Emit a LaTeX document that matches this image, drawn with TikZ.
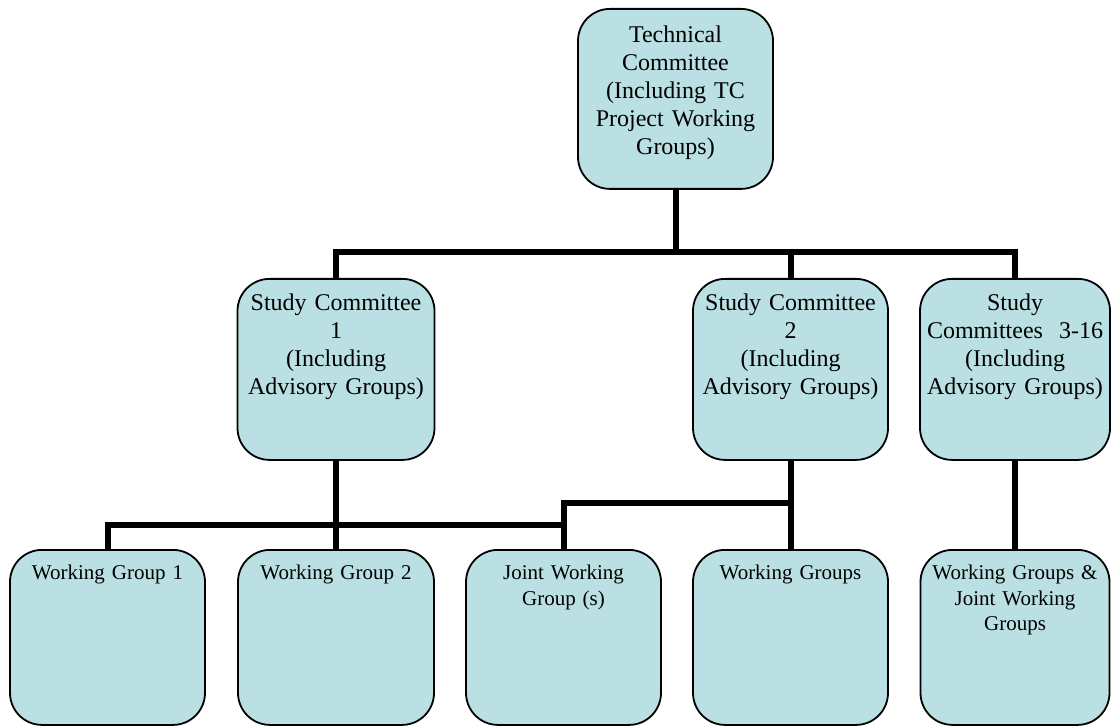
\documentclass[tikz,border=0pt]{standalone}
\usepackage{fontspec}
\setmainfont{Liberation Serif}
\definecolor{boxfill}{RGB}{186,224,227}
\tikzset{
	unit/.style = {draw, line width = 1.8pt, fill = boxfill, rounded corners = 32pt,
		inner sep = 0pt, align = center},
	upper/.style = {unit, anchor = north, font = \fontsize{24}{28}\selectfont},
	lower/.style = {unit, anchor = north, font = \fontsize{21}{25.5}\selectfont,
		text height = 30pt, text depth = 145pt},
	link/.style = {line width = 6pt}
}
\begin{document}
\begin{tikzpicture} [x = 1pt, y = -1pt]
	\useasboundingbox (0,0) rectangle (1111,727);
	% top
	\node [upper, text width = 195pt, text height = 34pt, text depth = 146pt] (tc) at (675.5,8)
		{Technical\\Committee\\(Including TC\\Project Working\\Groups)};
	% study committees
	\node [upper, text width = 197pt, text height = 32pt, text depth = 149pt] (sc1) at (336,278)
		{Study Committee\\1\\(Including\\Advisory Groups)};
	\node [upper, text width = 195pt, text height = 32pt, text depth = 149pt] (sc2) at (790.5,278)
		{Study Committee\\2\\(Including\\Advisory Groups)};
	\node [upper, text width = 190pt, text height = 32pt, text depth = 149pt] (sc3) at (1015,278)
		{Study\\Committees~~3-16\\(Including\\Advisory Groups)};
	% working groups
	\node [lower, text width = 195pt] (wg1) at (107.5,549) {Working Group 1};
	\node [lower, text width = 196pt] (wg2) at (336,549) {Working Group 2};
	\node [lower, text width = 195pt] (jwg) at (563.5,549) {Joint Working\\Group (s)};
	\node [lower, text width = 195pt] (wgs) at (790.5,549) {Working Groups};
	\node [lower, text width = 189pt] (wgj) at (1015,549) {Working Groups \&\\Joint Working\\Groups};
	% connectors
	\coordinate (bus1) at (675.5,252);
	\coordinate (bus2) at (0,525);
	\coordinate (bus3) at (0,503);
	\draw [link] (tc.south) -- (tc.south |- bus1);
	\draw [link] (sc1.north) -- (sc1.north |- bus1) -- (sc3.north |- bus1) -- (sc3.north);
	\draw [link] (sc2.north) -- (sc2.north |- bus1);
	\draw [link] (sc1.south) -- (wg2.north);
	\draw [link] (wg1.north) -- (wg1.north |- bus2) -- (jwg.north |- bus2);
	\draw [link] (jwg.north) -- (jwg.north |- bus3) -- (sc2.south |- bus3);
	\draw [link] (sc2.south) -- (wgs.north);
	\draw [link] (sc3.south) -- (wgj.north);
\end{tikzpicture}
\end{document}
